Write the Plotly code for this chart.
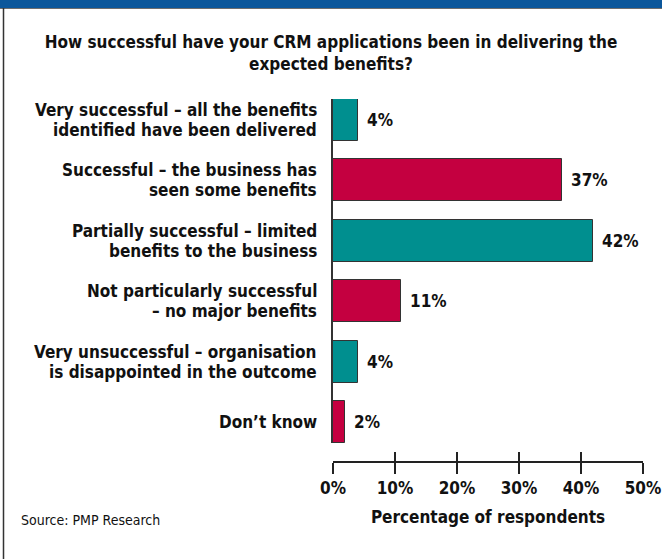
import plotly.graph_objects as go

# Survey data
categories = [
    "Very successful – all the benefits<br>identified have been delivered",
    "Successful – the business has<br>seen some benefits",
    "Partially successful – limited<br>benefits to the business",
    "Not particularly successful<br>– no major benefits",
    "Very unsuccessful – organisation<br>is disappointed in the outcome",
    "Don’t know",
]
percentages = [4, 37, 42, 11, 4, 2]
bar_colors = ["#008F8F", "#C40040", "#008F8F", "#C40040", "#008F8F", "#C40040"]
x_ticks = [0, 10, 20, 30, 40, 50]
x_tick_labels = ["0%", "10%", "20%", "30%", "40%", "50%"]

W, H = 662, 559
ML, MR, MT, MB = 333, 19, 99, 97
PW, PH = W - ML - MR, H - MT - MB
BAR_W = 0.69
LINE_GAP = 20  # px between the two lines of a category label

FONT = "DejaVu Sans Condensed, DejaVu Sans, sans-serif"
INK = "#111111"
FS = 17

fig = go.Figure()
fig.add_trace(go.Bar(
    x=percentages,
    y=list(range(len(categories))),
    orientation="h",
    width=BAR_W,
    marker=dict(color=bar_colors, line=dict(color="#333333", width=1)),
    hoverinfo="skip",
))

# value labels just beyond each bar end
for i, v in enumerate(percentages):
    fig.add_annotation(
        x=v, y=i, xref="x", yref="y",
        text=f"<b>{v}%</b>", showarrow=False,
        xanchor="left", yanchor="middle", xshift=7,
        font=dict(family=FONT, size=FS, color=INK),
    )

# category labels, right aligned against the bars, one annotation per line
for i, cat in enumerate(categories):
    lines = cat.split("<br>")
    n = len(lines)
    for k, line in enumerate(lines):
        offset = ((n - 1) / 2 - k) * LINE_GAP
        fig.add_annotation(
            x=0, y=i, xref="x", yref="y",
            text=f"<b>{line}</b>", showarrow=False,
            xanchor="right", yanchor="middle", xshift=-15, yshift=offset,
            borderpad=0,
            font=dict(family=FONT, size=FS, color=INK),
        )

# px -> paper helpers for the frame decoration
def px_x(p):
    return (p - ML) / PW

def px_y(p):
    return 1 - (p - MT) / PH

y_dom_bottom = (H - MB - 443) / PH

fig.update_layout(
    width=W, height=H,
    margin=dict(l=ML, r=MR, t=MT, b=MB, autoexpand=False),
    paper_bgcolor="white", plot_bgcolor="white",
    showlegend=False,
    bargap=0,
    title=dict(
        text="<b>How successful have your CRM applications been in delivering the<br>expected benefits?</b>",
        x=0.5, xref="container", xanchor="center",
        y=1 - 48 / H, yref="container", yanchor="middle",
        font=dict(family=FONT, size=FS, color=INK),
    ),
    font=dict(family=FONT, color=INK),
    yaxis=dict(
        domain=[y_dom_bottom, 1],
        range=[len(categories) - 1 + BAR_W / 2, -BAR_W / 2],
        showline=True, linecolor="#333333", linewidth=1.5,
        showgrid=False, zeroline=False, ticks="", showticklabels=False,
        fixedrange=True,
    ),
    xaxis=dict(
        anchor="free", position=0,
        range=[0, 50],
        tickmode="array", tickvals=x_ticks,
        ticktext=[f"<b>{t}</b>" for t in x_tick_labels],
        ticks="outside", ticklen=11, tickwidth=1.5, tickcolor="#222222",
        showline=True, linecolor="#222222", linewidth=1.5,
        showgrid=False, zeroline=False,
        ticklabeloverflow="allow",
        tickfont=dict(family=FONT, size=FS, color=INK),
        title=dict(text="<b>Percentage of respondents</b>", standoff=13,
                   font=dict(family=FONT, size=FS, color=INK)),
        fixedrange=True,
    ),
    xaxis2=dict(
        overlaying="x", anchor="free", position=0,
        range=[0, 50], tickmode="array", tickvals=x_ticks,
        ticks="inside", ticklen=10, tickwidth=1.5, tickcolor="#222222",
        showticklabels=False, showgrid=False, zeroline=False, showline=False,
        fixedrange=True,
    ),
)

# invisible trace so the secondary (inner-tick) axis gets drawn
fig.add_trace(go.Scatter(x=[0], y=[0], xaxis="x2", yaxis="y",
                         mode="markers", marker=dict(opacity=0),
                         hoverinfo="skip", showlegend=False))

# frame: top band and left rule
fig.add_shape(type="rect", xref="paper", yref="paper",
              x0=px_x(0), x1=px_x(W), y0=px_y(8), y1=px_y(-2),
              fillcolor="#0B579B", line=dict(width=0), layer="above")
fig.add_shape(type="line", xref="paper", yref="paper",
              x0=px_x(0), x1=px_x(W), y0=px_y(8.5), y1=px_y(8.5),
              line=dict(color="#6E6E6E", width=1))
fig.add_shape(type="line", xref="paper", yref="paper",
              x0=px_x(3.5), x1=px_x(3.5), y0=px_y(8), y1=px_y(H + 2),
              line=dict(color="#333333", width=1.5))

fig.add_annotation(
    x=px_x(19), y=px_y(520), xref="paper", yref="paper",
    text="Source: PMP Research", showarrow=False,
    xanchor="left", yanchor="middle",
    font=dict(family=FONT, size=14, color=INK),
)

fig.write_html("out.html")
